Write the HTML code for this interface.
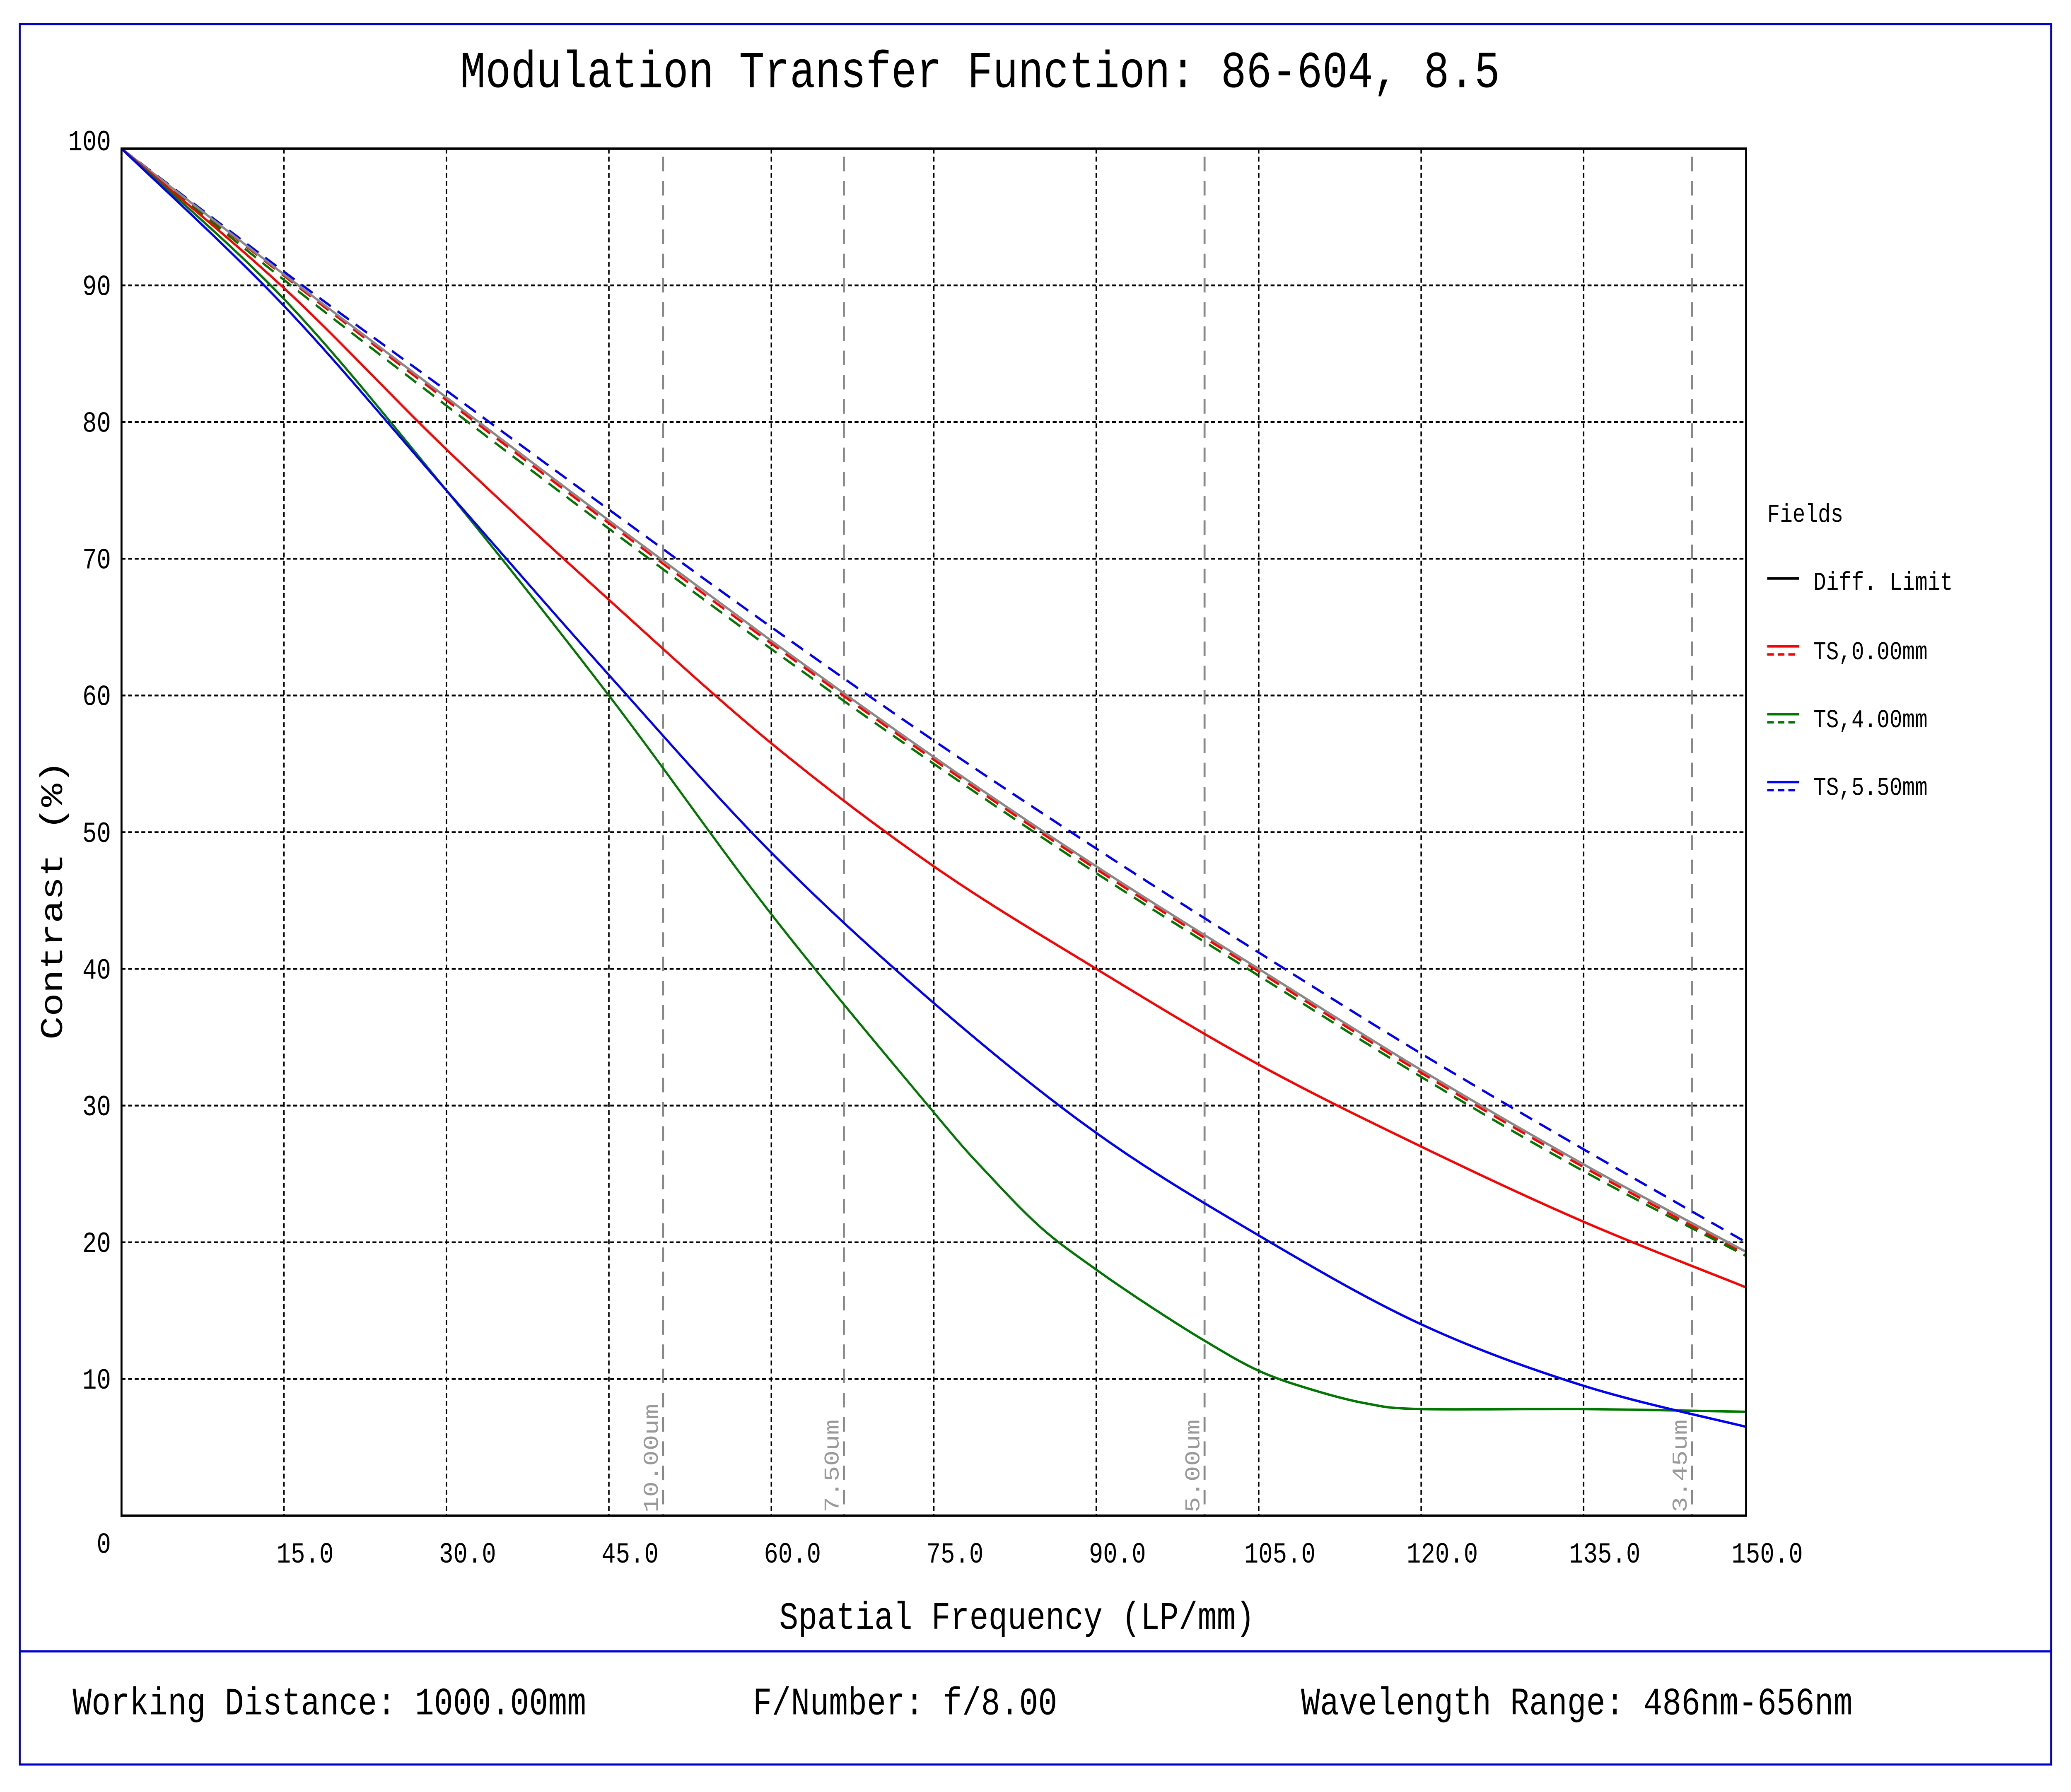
<!DOCTYPE html>
<html><head><meta charset="utf-8"><style>
html,body{margin:0;padding:0;background:#fff;width:100%;height:100%;overflow:hidden;}
#chart{display:block;position:fixed;left:0;top:0;width:100vw;height:100vh;}
text{font-family:"Liberation Mono",monospace;}
</style></head><body>
<svg id="chart" xmlns="http://www.w3.org/2000/svg" viewBox="0 0 1568 1109" preserveAspectRatio="none">
<rect x="0" y="0" width="1568" height="1109" fill="#fff"/>
<rect x="15" y="15" width="1538" height="1077" fill="none" stroke="#0000cc" stroke-width="1.3"/>
<line x1="15" y1="1022" x2="1553" y2="1022" stroke="#0000cc" stroke-width="1.3"/>
<text x="742" y="54" font-size="32" text-anchor="middle" fill="#000">Modulation Transfer Function: 86-604, 8.5</text>
<g id="grid"></g>
<g id="refs"></g>
<g id="series"></g>
<rect x="92" y="92" width="1230" height="846" fill="none" stroke="#000" stroke-width="1.5"/>
<g id="ticks"></g>
<text x="770" y="1008" font-size="24" text-anchor="middle">Spatial Frequency (LP/mm)</text>
<text transform="translate(47,557) rotate(-90)" font-size="24" text-anchor="middle">Contrast (%)</text>
<g>
<text x="1338" y="323" font-size="16">Fields</text>
<g><line x1="1338" y1="358" x2="1362" y2="358" stroke="#000" stroke-width="1.5"/><text x="1373" y="365" font-size="16">Diff. Limit</text></g>
<g><line x1="1338" y1="400" x2="1362" y2="400" stroke="#f00" stroke-width="1.5"/><line x1="1338" y1="405" x2="1362" y2="405" stroke="#f00" stroke-width="1.5" stroke-dasharray="5,3"/><text x="1373" y="408" font-size="16">TS,0.00mm</text></g>
<g><line x1="1338" y1="442" x2="1362" y2="442" stroke="#007700" stroke-width="1.5"/><line x1="1338" y1="447" x2="1362" y2="447" stroke="#007700" stroke-width="1.5" stroke-dasharray="5,3"/><text x="1373" y="450" font-size="16">TS,4.00mm</text></g>
<g><line x1="1338" y1="484" x2="1362" y2="484" stroke="#00f" stroke-width="1.5"/><line x1="1338" y1="489" x2="1362" y2="489" stroke="#00f" stroke-width="1.5" stroke-dasharray="5,3"/><text x="1373" y="492" font-size="16">TS,5.50mm</text></g>
</g>
<text x="55" y="1061" font-size="24">Working Distance: 1000.00mm</text>
<text x="570" y="1061" font-size="24">F/Number: f/8.00</text>
<text x="985" y="1061" font-size="24">Wavelength Range: 486nm-656nm</text>
</svg>
<script>
const freqs = [0,15,30,45,60,75,90,105,120,135,150];
const diffLimit = [100,90.8,81.8,72.8,64,55.5,47.5,40,32.6,25.7,19.3];
const red_T = [100,89.8,78,67,56.5,47.5,40,33,27,21.5,16.7];
const red_S = [100,90.7,81.6,72.6,63.8,55.3,47.3,39.8,32.4,25.5,19.1];
const greenFreqs = [0,15,30,45,60,75,80,85,90,95,100,105,110,115,120,135,150];
const green_T = [100,89,75,60,44,29.5,25,21,18,15.3,12.8,10.6,9.2,8.2,7.8,7.8,7.6];
const green_S = [100,90.4,81.2,72.2,63.4,55,47,39.5,32.1,25.2,19];
const blue_T = [100,88.5,75,61.5,48.5,37.5,28,20.5,14,9.5,6.5];
const blue_S = [100,91,82.3,73.6,65,56.7,48.8,41.2,33.8,26.8,20];
const xTicks = ["15.0","30.0","45.0","60.0","75.0","90.0","105.0","120.0","135.0","150.0"];
const yTicks = ["0","10","20","30","40","50","60","70","80","90","100"];
const refFreqs = [50,66.7,100,145];
const refLabels = ["10.00um","7.50um","5.00um","3.45um"];

const NS="http://www.w3.org/2000/svg";
const X0=92,X1=1322,Y0=938,Y1=92;
const xs=v=>X0+(v/150)*(X1-X0);
const ys=v=>Y0-(v/100)*(Y0-Y1);
function mk(tag,attrs,parent){const e=document.createElementNS(NS,tag);for(const k in attrs)e.setAttribute(k,attrs[k]);parent.appendChild(e);return e;}
const grid=document.getElementById('grid'),ticks=document.getElementById('ticks'),refs=document.getElementById('refs'),series=document.getElementById('series');
for(let i=1;i<=10;i++){
  const gx=mk('line',{x1:xs(i*15),x2:xs(i*15),y1:Y1,y2:Y0,stroke:'#000','stroke-width':1.1,'stroke-dasharray':'3,2'},grid);
  
  
  const gy=mk('line',{x1:X0,x2:X1,y1:ys(i*10),y2:ys(i*10),stroke:'#000','stroke-width':1.1,'stroke-dasharray':'3,2'},grid);
  
  
}
xTicks.forEach((t,i)=>{
  const e=mk('text',{x:xs((i+1)*15)+16,y:967,'font-size':18,'text-anchor':'middle'},ticks);e.textContent=t;
  
  
});
yTicks.forEach((t,i)=>{
  let y=ys(i*10)+6; if(i===10)y=93; if(i===0)y=961;
  const e=mk('text',{x:84,y:y,'font-size':18,'text-anchor':'end'},ticks);e.textContent=t;
  
  
});
refFreqs.forEach((f,i)=>{
  const l=mk('line',{x1:xs(f),x2:xs(f),y1:Y1+5,y2:Y0,stroke:'#888','stroke-width':1.5,'stroke-dasharray':'9,6'},refs);
  
  
  const t=mk('text',{transform:`translate(${xs(f)-4},${Y0-2}) rotate(-90)`,'font-size':16,fill:'#999'},refs);t.textContent=refLabels[i];
  
  
});
function draw(fx,vals,color,dash,name){
  const P=vals.map((v,i)=>[xs(fx[i]),ys(v)]);
  let d='M'+P[0][0].toFixed(2)+','+P[0][1].toFixed(2);
  for(let i=0;i<P.length-1;i++){
    const p0=P[Math.max(0,i-1)],p1=P[i],p2=P[i+1],p3=P[Math.min(P.length-1,i+2)];
    const c1=[p1[0]+(p2[0]-p0[0])/6,p1[1]+(p2[1]-p0[1])/6];
    const c2=[p2[0]-(p3[0]-p1[0])/6,p2[1]-(p3[1]-p1[1])/6];
    d+=' C'+c1[0].toFixed(2)+','+c1[1].toFixed(2)+' '+c2[0].toFixed(2)+','+c2[1].toFixed(2)+' '+p2[0].toFixed(2)+','+p2[1].toFixed(2);
  }
  const p=mk('path',{d:d,fill:'none',stroke:color,'stroke-width':1.5,'stroke-linejoin':'round'},series);
  if(dash)p.setAttribute('stroke-dasharray','10,6');
  
  
}
draw(freqs,red_S,'#f00',true,'ts-0mm-sagittal');
draw(freqs,green_S,'#007700',true,'ts-4mm-sagittal');
draw(freqs,blue_S,'#00f',true,'ts-5p5mm-sagittal');
draw(freqs,diffLimit,'#888',false,'diff-limit');
draw(freqs,red_T,'#f00',false,'ts-0mm-tangential');
draw(greenFreqs,green_T,'#007700',false,'ts-4mm-tangential');
draw(freqs,blue_T,'#00f',false,'ts-5p5mm-tangential');
</script>
</body></html>
